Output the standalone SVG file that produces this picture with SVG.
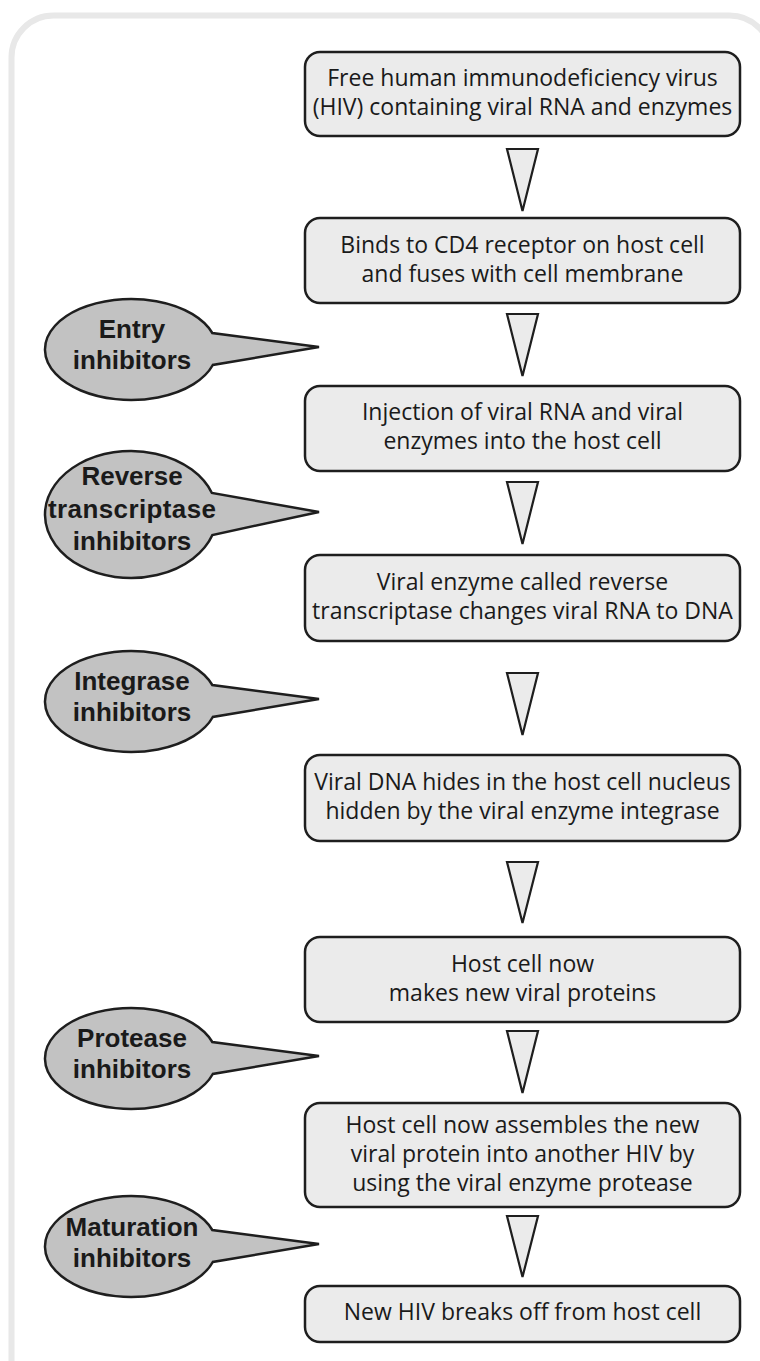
<svg xmlns="http://www.w3.org/2000/svg" width="760" height="1361" viewBox="0 0 760 1361">
<style>
.frame{fill:#ffffff;stroke:#e8e8e8;stroke-width:6}
.box{fill:#ebebeb;stroke:#1e1e1e;stroke-width:2.5}
.arr{fill:#ebebeb;stroke:#1e1e1e;stroke-width:2.2;stroke-linejoin:miter}
.call{fill:#c2c2c2;stroke:#1e1e1e;stroke-width:2.5;stroke-linejoin:miter}
.t{font-family:"Open Sans","Liberation Sans",sans-serif;font-size:23px;fill:#1a1a1a;text-anchor:middle}
.b{font-family:"Liberation Sans",Arial,sans-serif;font-weight:bold;font-size:26px;fill:#1a1a1a;text-anchor:middle}
</style>
<rect width="760" height="1361" fill="#ffffff"/>
<rect class="frame" x="11.5" y="15.5" width="760" height="1420" rx="42"/>
<g id="connectors">
<polygon class="arr" points="507,149 538,149 522.5,211"/>
<polygon class="arr" points="507,314 538,314 522.5,376"/>
<polygon class="arr" points="507,482 538,482 522.5,544"/>
<polygon class="arr" points="507,673 538,673 522.5,735"/>
<polygon class="arr" points="507,862 538,862 522.5,923"/>
<polygon class="arr" points="507,1031 538,1031 522.5,1093"/>
<polygon class="arr" points="507,1216 538,1216 522.5,1277"/>
</g>
<g id="n1"><rect class="box" x="305" y="52" width="435" height="84" rx="15"/>
<text class="t" x="522.5" y="86">Free human immunodeficiency virus</text>
<text class="t" x="522.5" y="115">(HIV) containing viral RNA and enzymes</text></g>
<g id="n2"><rect class="box" x="305" y="218" width="435" height="85" rx="15"/>
<text class="t" x="522.5" y="253">Binds to CD4 receptor on host cell</text>
<text class="t" x="522.5" y="282">and fuses with cell membrane</text></g>
<g id="n3"><rect class="box" x="305" y="386" width="435" height="85" rx="15"/>
<text class="t" x="522.5" y="420">Injection of viral RNA and viral</text>
<text class="t" x="522.5" y="449">enzymes into the host cell</text></g>
<g id="n4"><rect class="box" x="305" y="555" width="435" height="86" rx="15"/>
<text class="t" x="522.5" y="590">Viral enzyme called reverse</text>
<text class="t" x="522.5" y="619">transcriptase changes viral RNA to DNA</text></g>
<g id="n5"><rect class="box" x="305" y="755" width="435" height="86" rx="15"/>
<text class="t" x="522.5" y="790">Viral DNA hides in the host cell nucleus</text>
<text class="t" x="522.5" y="819">hidden by the viral enzyme integrase</text></g>
<g id="n6"><rect class="box" x="305" y="937" width="435" height="85" rx="15"/>
<text class="t" x="522.5" y="972">Host cell now</text>
<text class="t" x="522.5" y="1001">makes new viral proteins</text></g>
<g id="n7"><rect class="box" x="305" y="1103" width="435" height="104" rx="15"/>
<text class="t" x="522.5" y="1133">Host cell now assembles the new</text>
<text class="t" x="522.5" y="1162">viral protein into another HIV by</text>
<text class="t" x="522.5" y="1191">using the viral enzyme protease</text></g>
<g id="n8"><rect class="box" x="305" y="1286" width="435" height="56" rx="15"/>
<text class="t" x="522.5" y="1320">New HIV breaks off from host cell</text></g>
<g id="c1"><path class="call" d="M212.3,333 A86,50.5 0 1 0 212.8,365 L319,347 Z"/>
<text class="b" x="132" y="338">Entry</text>
<text class="b" x="132" y="369">inhibitors</text></g>
<g id="c2"><path class="call" d="M211.9,493 A86,63.5 0 1 0 212.4,535 L319,512 Z"/>
<text class="b" x="132" y="485">Reverse</text>
<text class="b" x="132" y="518" textLength="168">transcriptase</text>
<text class="b" x="132" y="550">inhibitors</text></g>
<g id="c3"><path class="call" d="M212.3,685 A86,50.5 0 1 0 212.8,717 L319,699 Z"/>
<text class="b" x="132" y="690">Integrase</text>
<text class="b" x="132" y="721">inhibitors</text></g>
<g id="c4"><path class="call" d="M212.3,1042 A86,50.5 0 1 0 212.8,1074 L319,1056 Z"/>
<text class="b" x="132" y="1047">Protease</text>
<text class="b" x="132" y="1078">inhibitors</text></g>
<g id="c5"><path class="call" d="M212.3,1230 A86,50.5 0 1 0 212.8,1262 L319,1244 Z"/>
<text class="b" x="132" y="1236">Maturation</text>
<text class="b" x="132" y="1267">inhibitors</text></g>
</svg>
